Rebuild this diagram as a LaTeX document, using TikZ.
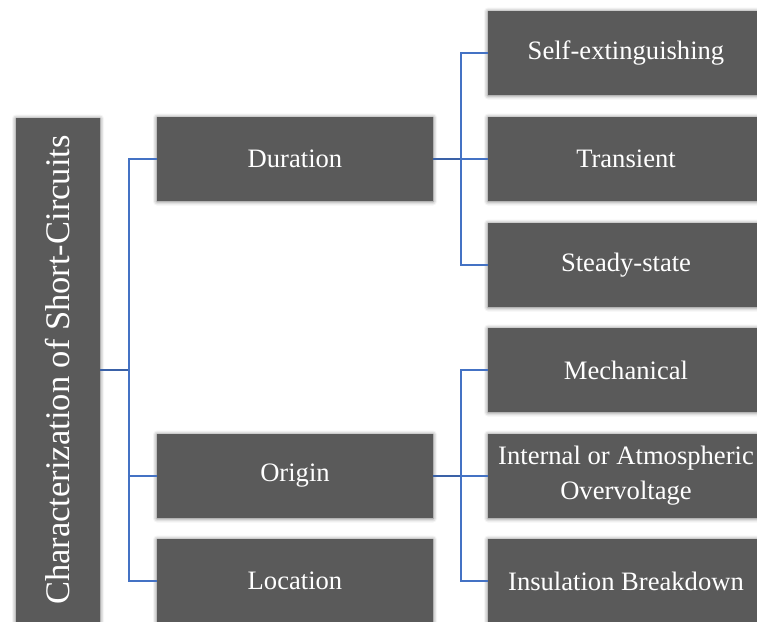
\documentclass[tikz,border=0pt]{standalone}
\usepackage{fontspec}
\setmainfont{Liberation Serif}
\usepackage{graphicx}
\usetikzlibrary{shadows.blur}
\definecolor{boxgray}{HTML}{5A5A5A}
\definecolor{linkblue}{HTML}{4472C4}
\tikzset{
  catbox/.style={rectangle,fill=boxgray,text=white,minimum width=276pt,minimum height=84pt,inner sep=2pt,align=center,
    font=\fontsize{26.6}{35}\selectfont,
    blur shadow={shadow xshift=0pt,shadow yshift=-0.5pt,shadow blur radius=4pt,shadow opacity=60}},
  rootbox/.style={catbox,minimum width=84pt,minimum height=504pt,font=\fontsize{34.5}{40}\selectfont},
  link/.style={draw=linkblue,line width=1.1pt},
  mainlink/.style={draw=linkblue!85!black,line width=2pt}
}

\begin{document}
\begin{tikzpicture}[x=1pt,y=-1pt]
  \useasboundingbox (0,0) rectangle (757,621);
  \clip (0,0) rectangle (757,621);
  \node[rootbox] (root) at (58,370) {\rotatebox{90}{Characterization of Short-Circuits}};
  \foreach \y/\n/\t in {159/dur/Duration,476/ori/Origin,581/loc/Location}
    \node[catbox] (\n) at (295,\y) {\t};
  \foreach \y/\n/\t in {53/self/Self-extinguishing,159/tran/Transient,265/stea/Steady-state,
                        370/mech/Mechanical,476/over/{Internal or Atmospheric\\Overvoltage},581/insu/Insulation Breakdown}
    \node[catbox] (\n) at (626,\y) {\t};
  \coordinate (rj) at (129,370);
  \coordinate (dj) at (461,159);
  \coordinate (oj) at (461,476);
  \draw[mainlink] (root.east) -- (rj);
  \foreach \n in {dur,ori,loc}
    \draw[link] (rj) |- (\n.west);
  \draw[mainlink,line width=1.4pt] (dur.east) -- (dj);
  \draw[mainlink,line width=1.4pt] (ori.east) -- (oj);
  \foreach \n in {self,tran,stea}
    \draw[link] (dj) |- (\n.west);
  \foreach \n in {mech,over,insu}
    \draw[link] (oj) |- (\n.west);
\end{tikzpicture}
\end{document}
